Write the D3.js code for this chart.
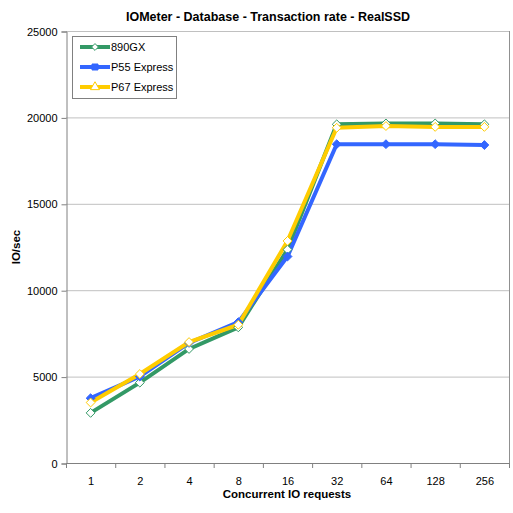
<!DOCTYPE html>
<html><head><meta charset="utf-8">
<script src="https://cdn.jsdelivr.net/npm/d3@7"></script>
<style>body{margin:0;background:#fff}svg{display:block}text{font-family:"Liberation Sans",Arial,sans-serif}</style>
</head><body>
<svg id="c" width="513" height="513"></svg>
<script>
const categories = ["1","2","4","8","16","32","64","128","256"];
const s890GX = [2900, 4650, 6600, 7850, 12350, 19600, 19650, 19650, 19600];
const sP55 = [3750, 5000, 6950, 8150, 11950, 18450, 18450, 18450, 18400];
const sP67 = [3500, 5150, 7000, 8000, 12850, 19400, 19500, 19450, 19450];
const yTicks = [0, 5000, 10000, 15000, 20000, 25000];
const seriesNames = ["890GX", "P55 Express", "P67 Express"];
const seriesColors = ["#339966", "#3366FF", "#FFCC00"];

const svg = d3.select("#c");
const L = 66, R = 509, T = 31, B = 463;
const x = d3.scaleBand().domain(categories).range([L, R]);
const y = d3.scaleLinear().domain([0, 25000]).range([B, T]);

// grid
svg.append("g").selectAll("line").data(yTicks.filter(d => d > 0)).join("line")
  .attr("x1", L).attr("x2", R).attr("y1", d => y(d) + 0.5).attr("y2", d => y(d) + 0.5)
  .attr("stroke", "#c0c0c0");
svg.append("line").attr("x1", R + 0.5).attr("x2", R + 0.5).attr("y1", T).attr("y2", B).attr("stroke", "#909090");

// axes
const ya = svg.append("g").attr("transform", `translate(${L + 0.5},0.5)`)
  .call(d3.axisLeft(y).tickValues(yTicks).tickSize(5).tickPadding(4).tickFormat(d3.format("d")));
const xa = svg.append("g").attr("transform", `translate(0.5,${B + 0.5})`)
  .call(d3.axisBottom(x).tickSize(0).tickPadding(14));
[ya, xa].forEach(a => {
  a.selectAll("path,line").attr("stroke", "#808080");
  a.selectAll("text").attr("font-size", 11).attr("fill", "#000");
});
xa.select(".domain").attr("d", `M${L},0H${R}`);
svg.append("g").selectAll("line").data(d3.range(categories.length + 1)).join("line")
  .attr("x1", i => L + i * x.step() + 0.5).attr("x2", i => L + i * x.step() + 0.5)
  .attr("y1", B).attr("y2", B + 5).attr("stroke", "#808080");

const all = [s890GX, sP55, sP67];
const line = d3.line().x((d, i) => x(categories[i]) + x.bandwidth() / 2).y(d => y(d));
const diamond = d3.symbol().type(d3.symbolDiamond2).size(50);
all.forEach((s, k) => {
  svg.append("path").datum(s).attr("d", line).attr("fill", "none")
    .attr("stroke", seriesColors[k]).attr("stroke-width", 4);
});
all.forEach((s, k) => {
  svg.append("g").selectAll("path").data(s).join("path")
    .attr("d", diamond)
    .attr("transform", (d, i) => `translate(${x(categories[i]) + x.bandwidth() / 2},${y(d)})`)
    .attr("fill", k === 1 ? seriesColors[1] : "#fff")
    .attr("stroke", seriesColors[k]).attr("stroke-width", 1);
});

// title & labels
svg.append("text").attr("x", 268).attr("y", 21).attr("text-anchor", "middle")
  .attr("font-size", 12.5).attr("font-weight", "bold").text("IOMeter - Database - Transaction rate - RealSSD");
svg.append("text").attr("x", 287).attr("y", 498).attr("text-anchor", "middle")
  .attr("font-size", 11.5).attr("font-weight", "bold").text("Concurrent IO requests");
svg.append("text").attr("transform", "translate(20,247) rotate(-90)").attr("text-anchor", "middle")
  .attr("font-size", 11.5).attr("font-weight", "bold").text("IO/sec");

// legend
const lg = svg.append("g");
lg.append("rect").attr("x", 72.5).attr("y", 36.5).attr("width", 104).attr("height", 62)
  .attr("fill", "#fff").attr("stroke", "#808080");
const legSym = [d3.symbolDiamond2, d3.symbolSquare, d3.symbolTriangle];
seriesNames.forEach((n, k) => {
  const yy = 47 + k * 20;
  lg.append("line").attr("x1", 80).attr("x2", 110).attr("y1", yy).attr("y2", yy)
    .attr("stroke", seriesColors[k]).attr("stroke-width", 4);
  lg.append("path").attr("d", d3.symbol().type(legSym[k]).size(k === 0 ? 30 : 36))
    .attr("transform", `translate(95,${yy})`)
    .attr("fill", k === 1 ? seriesColors[1] : "#fff").attr("stroke", seriesColors[k]);
  lg.append("text").attr("x", 111).attr("y", yy + 4).attr("font-size", 11).text(n);
});
</script>
</body></html>
